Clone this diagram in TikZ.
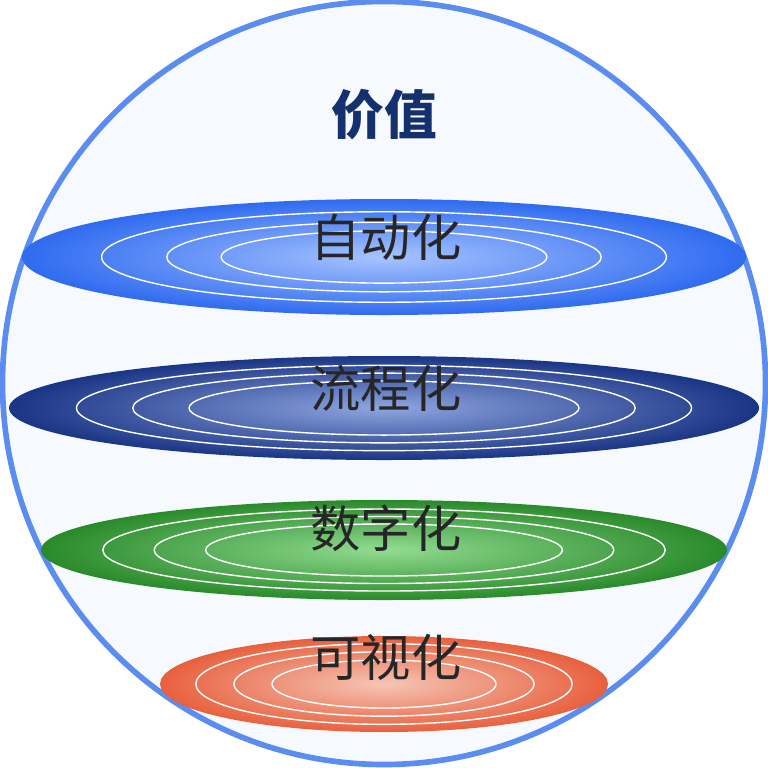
\documentclass[tikz,border=0pt]{standalone}
\usepackage{fontspec}
\newfontfamily\cjk{Noto Sans CJK SC}
\definecolor{ballfill}{HTML}{F6FAFE}
\definecolor{ballline}{HTML}{5B8DF0}
\definecolor{titleblue}{HTML}{14306E}
\definecolor{autoin}{HTML}{A8C4FF}
\definecolor{autoout}{HTML}{2F6BF0}
\definecolor{flowin}{HTML}{8FA6E0}
\definecolor{flowout}{HTML}{1A3585}
\definecolor{digitin}{HTML}{92DC92}
\definecolor{digitout}{HTML}{2A8A2A}
\definecolor{visin}{HTML}{F5C6B6}
\definecolor{visout}{HTML}{E8603E}
\begin{document}
\begin{tikzpicture}[x=0.01cm,y=-0.01cm,
    disk/.style={draw=none},
    ring/.style={draw=white,line width=0.4pt},
    lbl/.style={font=\cjk\fontsize{14.3}{16}\selectfont,text=black!85}]
        % bounding box and the sphere
        \useasboundingbox (0,0) rectangle (768,767);
        \fill[ballfill] (384,383) circle (381);
        \draw[ballline,line width=1.6pt] (384,383) circle (381.5);
        \node[font=\cjk\bfseries\fontsize{15}{18}\selectfont,text=titleblue] (title) at (384,115) {价值};

        % layer 1
        \shade[disk,inner color=autoin,outer color=autoout] (384,257) ellipse (362 and 58);
        \foreach \k in {0.45,0.6,0.78} \draw[ring] (384,257) ellipse ({362*\k} and {58*\k});
        \node[lbl] (auto) at (386,237) {自动化};

        % layer 2
        \shade[disk,inner color=flowin,outer color=flowout] (384,408) ellipse (375 and 52);
        \foreach \k in {0.52,0.67,0.82} \draw[ring] (384,408) ellipse ({375*\k} and {52*\k});
        \node[lbl] (flow) at (386,388) {流程化};

        % layer 3
        \shade[disk,inner color=digitin,outer color=digitout] (384,550) ellipse (343 and 50);
        \foreach \k in {0.52,0.67,0.82} \draw[ring] (384,550) ellipse ({343*\k} and {50*\k});
        \node[lbl] (digit) at (386,528) {数字化};

        % layer 4
        \shade[disk,inner color=visin,outer color=visout] (384,684) ellipse (224 and 48);
        \foreach \k in {0.5,0.67,0.84} \draw[ring] (384,684) ellipse ({224*\k} and {48*\k});
        \node[lbl] (visual) at (386,657) {可视化};
\end{tikzpicture}
\end{document}
